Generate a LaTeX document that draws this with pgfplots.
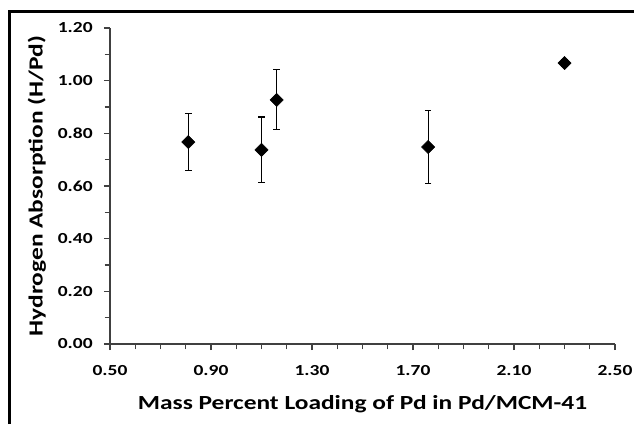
\documentclass[border=0pt]{standalone}
\usepackage{pgfplots}
\pgfplotsset{compat=1.18}
\usepackage{fontspec}
\setmainfont{Carlito}[FakeStretch=1.27]
\begin{document}
\begin{tikzpicture}
% page bounds (1px = 0.75pt)
\path[use as bounding box] (-82.5pt,-60pt) rectangle (393pt,258pt);
\begin{axis}[
  at={(0,0)}, anchor=south west,
  scale only axis,
  width=378.75pt, height=237pt,
  xmin=0.5, xmax=2.5, ymin=0, ymax=1.2,
  axis lines*=left,
  axis line style={black!75, line width=0.8pt},
  xtick={0.5,0.9,1.3,1.7,2.1,2.5},
  ytick={0,0.2,...,1.2},
  minor xtick={0.6,0.7,0.8,1.0,1.1,1.2,1.4,1.5,1.6,1.8,1.9,2.0,2.2,2.3,2.4},
  minor ytick={0.1,0.3,0.5,0.7,0.9,1.1},
  tick align=outside,
  major tick length=4.5pt, minor tick length=4pt,
  tick style={black!75, line width=0.8pt},
  /pgf/number format/assume math mode=true,
  /pgf/number format/fixed, /pgf/number format/fixed zerofill,
  /pgf/number format/precision=2,
  ticklabel style={font=\fontsize{11.5pt}{13pt}\selectfont\bfseries},
  yticklabel style={xshift=-5pt},
  xticklabel style={yshift=-8pt},
  xlabel={Mass Percent Loading of Pd in Pd/MCM-41},
  ylabel={Hydrogen Absorption (H/Pd)},
  label style={font=\fontsize{15pt}{17pt}\selectfont\bfseries},
  xlabel style={at={([yshift=-48.75pt]axis description cs:0.5,0)}, anchor=base},
  ylabel style={at={([xshift=-50.5pt]axis description cs:0,0.5)}, anchor=base},
  clip=false,
]
\addplot[only marks, mark=square*, mark size=3.5pt,
  mark options={rotate=45, fill=black, draw=black},
  error bars/.cd, y dir=both, y explicit,
  error bar style={black, line width=0.8pt},
  error mark options={rotate=90, mark size=2.5pt, line width=0.8pt, black}]
coordinates {
  (0.81,0.767) +- (0,0.108)
  (1.10,0.737) +- (0,0.125)
  (1.16,0.927) +- (0,0.114)
  (1.76,0.748) +- (0,0.139)
  (2.30,1.067) +- (0,0.014)
};
\end{axis}
% outer frame (left and top edges)
\draw[line width=2.25pt] (-75.4pt,-60pt) -- (-75.4pt,249.4pt) -- (393pt,249.4pt);
\end{tikzpicture}
\end{document}
